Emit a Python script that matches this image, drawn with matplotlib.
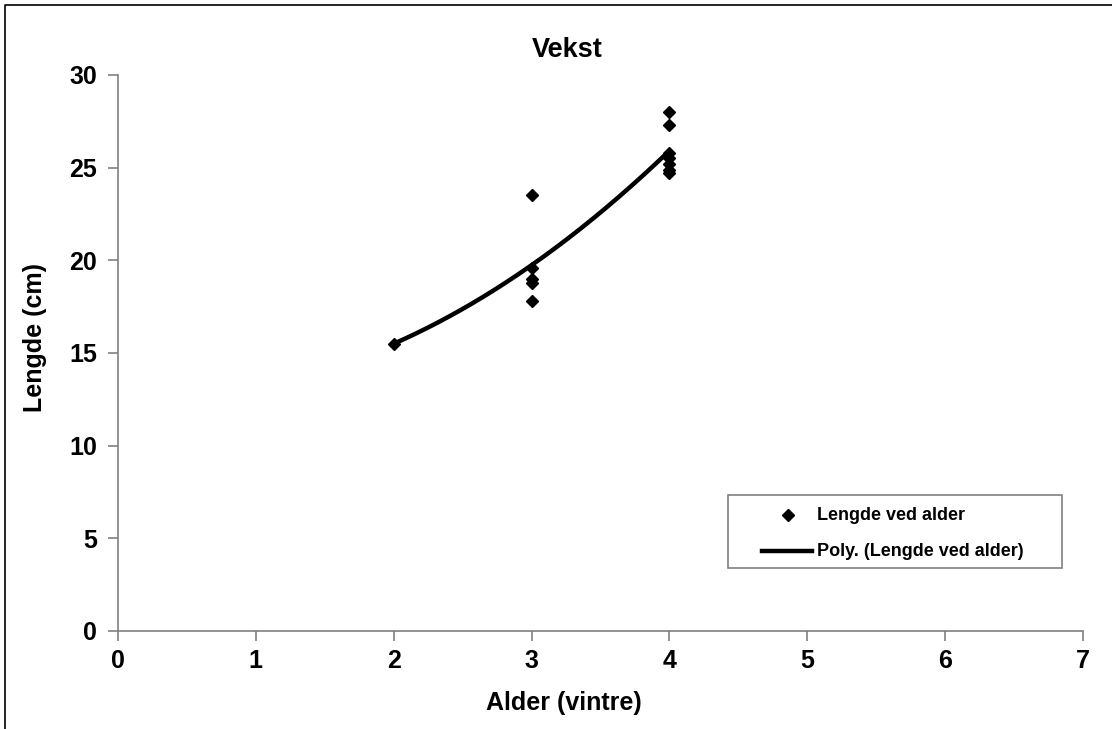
import numpy as np
import matplotlib
matplotlib.use("Agg")
import matplotlib.pyplot as plt
from matplotlib.patches import Rectangle
from matplotlib.lines import Line2D

plt.rcParams['font.family'] = ['Liberation Sans', 'DejaVu Sans']
plt.rcParams['font.weight'] = 'bold'

# data
alder = [2, 3, 3, 3, 3, 3, 4, 4, 4, 4, 4, 4, 4]
lengde = [15.5, 23.5, 19.6, 19.0, 18.8, 17.8, 28.0, 27.3, 25.8, 25.5, 25.2, 24.9, 24.7]
x_ticks = [0, 1, 2, 3, 4, 5, 6, 7]
y_ticks = [0, 5, 10, 15, 20, 25, 30]
serie_navn = 'Lengde ved alder'
trend_navn = 'Poly. (Lengde ved alder)'

W, H = 1112, 729
fig = plt.figure(figsize=(W / 100, H / 100), dpi=100)
ax = fig.add_axes([118 / W, 1 - 631 / H, (1083 - 118) / W, (631 - 75) / H])


def fx(px):
    return px / W


def fy(py):
    return 1 - py / H


# polynomial trendline (order 2), like Excel
koef = np.polyfit(alder, lengde, 2)
xs = np.linspace(min(alder), max(alder), 200)
ax.plot(xs, np.polyval(koef, xs), color='black', lw=3.2,
        solid_capstyle='butt', zorder=2)
ax.plot(alder, lengde, 'D', color='black', ms=5.8, lw=0, zorder=3)

ax.set_xlim(0, 7)
ax.set_ylim(0, 30)
ax.set_xticks(x_ticks)
ax.set_yticks(y_ticks)
ax.tick_params(direction='out', length=7, width=1.2, color='#808080',
               labelsize=18)
ax.tick_params(axis='x', pad=6)
ax.tick_params(axis='y', pad=8)
for lab in ax.get_xticklabels() + ax.get_yticklabels():
    lab.set_fontweight('bold')
for s in ['top', 'right']:
    ax.spines[s].set_visible(False)
for s in ['left', 'bottom']:
    ax.spines[s].set_color('#808080')
    ax.spines[s].set_linewidth(1.2)

fig.text(fx(567), fy(50), 'Vekst', ha='center', va='center',
         fontsize=19.5, fontweight='bold')
fig.text(fx(564), fy(703), 'Alder (vintre)', ha='center', va='center',
         fontsize=18, fontweight='bold')
fig.text(fx(35), fy(338), 'Lengde (cm)', ha='center', va='center',
         rotation=90, fontsize=18, fontweight='bold')

# legend box drawn by hand to match the Excel layout
fig.patches.append(Rectangle((fx(728), fy(568)), fx(1062) - fx(728),
                             fy(495) - fy(568), fill=True, facecolor='white',
                             edgecolor='#808080', lw=1.2,
                             transform=fig.transFigure, figure=fig, zorder=5))
fig.lines.append(Line2D([fx(788)], [fy(515)], marker='D', ms=5.8,
                        color='black', lw=0, transform=fig.transFigure,
                        figure=fig, zorder=6))
fig.lines.append(Line2D([fx(762), fx(812)], [fy(551), fy(551)], color='black',
                        lw=3.2, transform=fig.transFigure, figure=fig,
                        zorder=6))
fig.text(fx(817), fy(515), serie_navn, ha='left', va='center',
         fontsize=13, fontweight='bold', zorder=7)
fig.text(fx(817), fy(551), trend_navn, ha='left', va='center',
         fontsize=13, fontweight='bold', zorder=7)

# outer chart border (only top and left visible)
fig.lines.append(Line2D([fx(5), fx(5), 1.05], [-0.05, fy(5), fy(5)],
                        color='black', lw=1.2, transform=fig.transFigure,
                        figure=fig))

fig.savefig('out.png', dpi=100)
